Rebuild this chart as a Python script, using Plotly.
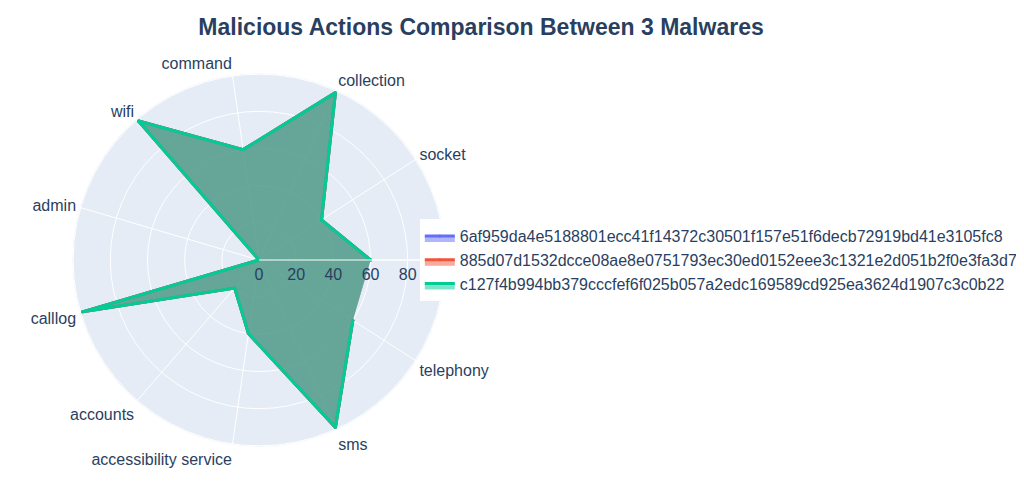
import plotly.graph_objects as go

categories = ["network", "socket", "collection", "command", "wifi", "admin",
              "calllog", "accounts", "accessibility service", "sms", "telephony"]

malwares = [
    "6af959da4e5188801ecc41f14372c30501f157e51f6decb72919bd41e3105fc8",
    "885d07d1532dcce08ae8e0751793ec30ed0152eee3c1321e2d051b2f0e3fa3d7",
    "c127f4b994bb379cccfef6f025b057a2edc169589cd925ea3624d1907c3c0b22",
]

values_1 = [60, 40, 99, 60, 99, 0, 99, 20, 40, 99, 60]
values_2 = [60, 40, 99, 60, 99, 0, 99, 20, 40, 99, 60]
values_3 = [60, 40, 99, 60, 99, 0, 99, 20, 40, 99, 60]

fig = go.Figure()
for name, vals in zip(malwares, [values_1, values_2, values_3]):
    fig.add_trace(go.Scatterpolar(r=vals, theta=categories, fill="toself",
                                  mode="lines+markers", marker=dict(size=3),
                                  line=dict(width=3), name=name))

fig.update_layout(
    title=dict(text="<b>Malicious Actions Comparison Between 3 Malwares</b>",
               x=0.4656, y=0.96, yanchor="middle", font=dict(size=23)),
    font=dict(family="Liberation Sans, Arial", size=16),
    width=1016, height=481,
    margin=dict(l=64, r=578, t=65, b=42, autoexpand=False),
    legend=dict(x=0.93, y=0.5, xanchor="left", yanchor="middle"),
)
fig.write_html("out.html")
